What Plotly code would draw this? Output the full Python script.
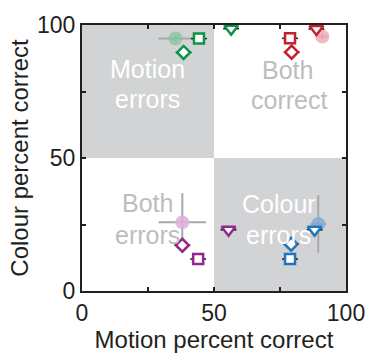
import plotly.graph_objects as go

# ---- data ----
groups = ["green", "red", "purple", "blue"]
line_colors = {"green": "#0a9447", "red": "#c4202f", "purple": "#93278f", "blue": "#1f74bb"}
mean_colors = {"green": "rgba(130,195,155,0.7)", "red": "rgba(242,165,180,0.8)",
               "purple": "rgba(218,178,218,0.85)", "blue": "rgba(125,170,212,0.8)"}

# mean (circle) points
mean_x = {"green": 35.4, "red": 91.0, "purple": 38.0, "blue": 89.5}
mean_y = {"green": 94.9, "red": 95.7, "purple": 25.8, "blue": 25.2}
mean_xerr = {"green": 6.5, "red": 2.0, "purple": 9.0, "blue": 3.0}
mean_yerr = {"green": 1.0, "red": 1.0, "purple": 11.0, "blue": 10.8}

# individual subjects: square, diamond, triangle
sq_x = {"green": 44.3, "red": 78.8, "purple": 44.0, "blue": 78.8}
sq_y = {"green": 94.9, "red": 95.0, "purple": 12.0, "blue": 12.0}
di_x = {"green": 38.5, "red": 79.4, "purple": 38.0, "blue": 79.2}
di_y = {"green": 89.7, "red": 89.8, "purple": 17.2, "blue": 17.6}
tr_x = {"green": 56.5, "red": 88.8, "purple": 55.5, "blue": 88.1}
tr_y = {"green": 98.6, "red": 98.5, "purple": 23.0, "blue": 23.0}
subj_err = 3.0

x_ticks = [0, 25, 50, 75, 100]
x_ticklabels = ["0", "", "50", "", "100"]
y_ticks = [0, 25, 50, 75, 100]
y_ticklabels = ["0", "", "50", "", "100"]

# quadrant label lines: (text, x, y, colour)
quad_lines = [("Motion", 24.8, 83.6, "white"), ("errors", 24.8, 72.0, "white"),
              ("Both", 78.0, 83.0, "#bdbdbd"), ("correct", 78.5, 71.8, "#bdbdbd"),
              ("Both", 24.8, 33.0, "#bdbdbd"), ("errors", 24.8, 21.2, "#bdbdbd"),
              ("Colour", 74.5, 32.7, "white"), ("errors", 74.5, 21.0, "white")]

FONT = "Liberation Sans, Arial, Helvetica, sans-serif"
TXT = "#231f20"

fig = go.Figure()

# shaded quadrants
fig.add_shape(type="rect", x0=0, x1=50, y0=50, y1=100, fillcolor="#d1d3d4",
              line_width=0, layer="below")
fig.add_shape(type="rect", x0=50, x1=100, y0=0, y1=50, fillcolor="#d1d3d4",
              line_width=0, layer="below")

# quadrant labels
for txt, qx, qy, col in quad_lines:
    fig.add_annotation(x=qx, y=qy, text=txt, showarrow=False,
                       font=dict(family=FONT, size=25, color=col),
                       xref="x", yref="y", xanchor="center", yanchor="middle")

for g in groups:
    # mean circle with gray error bars
    fig.add_trace(go.Scatter(
        x=[mean_x[g]], y=[mean_y[g]], mode="markers",
        marker=dict(symbol="circle", size=14, color=mean_colors[g], line_width=0),
        error_x=dict(type="constant", value=mean_xerr[g], color="#a7a9ac",
                     thickness=2, width=0),
        error_y=dict(type="constant", value=mean_yerr[g], color="#a7a9ac",
                     thickness=2, width=0),
        showlegend=False, hoverinfo="skip"))
    for sym, xs, ys, sz in [("square", sq_x, sq_y, 10),
                            ("diamond", di_x, di_y, 10),
                            ("triangle-down", tr_x, tr_y, 12)]:
        fig.add_trace(go.Scatter(
            x=[xs[g]], y=[ys[g]], mode="markers",
            marker=dict(symbol=sym, size=sz, color="white",
                        line=dict(color=line_colors[g], width=2.5)),
            error_x=dict(type="constant", value=subj_err, color="#111111",
                         thickness=1.5, width=0),
            showlegend=False, hoverinfo="skip", cliponaxis=False))

axis_common = dict(
    range=[0, 100], showgrid=False, zeroline=False,
    showline=True, linecolor=TXT, linewidth=2, mirror="ticks",
    ticks="inside", ticklen=4, tickwidth=1.5, tickcolor=TXT,
    tickfont=dict(family=FONT, size=23, color=TXT),
)

fig.update_xaxes(**axis_common, tickvals=x_ticks, ticktext=x_ticklabels,
                 title=dict(text="Motion percent correct",
                            font=dict(family=FONT, size=24, color=TXT),
                            standoff=2))
fig.update_yaxes(**axis_common, tickvals=y_ticks, ticktext=y_ticklabels,
                 title=dict(text="Colour percent correct",
                            font=dict(family=FONT, size=24, color=TXT),
                            standoff=2))

fig.update_layout(
    width=377, height=358,
    margin=dict(l=82, r=24, t=19, b=67),
    plot_bgcolor="white", paper_bgcolor="white",
    showlegend=False,
)

fig.write_html("out.html")
